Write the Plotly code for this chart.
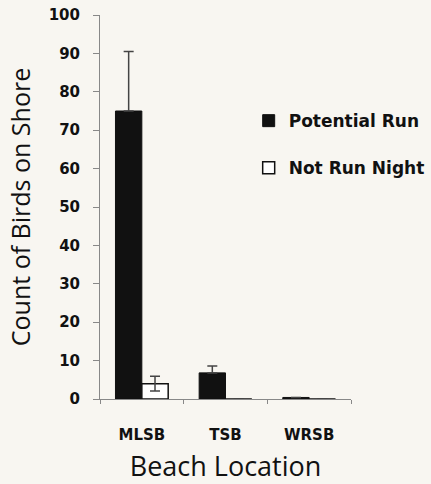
import plotly.graph_objects as go

categories = ["MLSB", "TSB", "WRSB"]
potential_run = [75, 6.8, 0.4]
potential_err = [15.5, 1.8, 0]
not_run_night = [4.0, 0, 0]
not_run_err = [1.9, 0, 0]

fig = go.Figure()
fig.add_trace(go.Bar(
    x=categories, y=potential_run, name="Potential Run",
    marker=dict(color="#111111", line=dict(color="#111111", width=1)),
    error_y=dict(type="data", symmetric=False, array=potential_err, arrayminus=[0, 0, 0],
                 color="#444444", thickness=1.5, width=5),
    legendgroup="a",
))
fig.add_trace(go.Bar(
    x=categories, y=not_run_night, name="Not Run Night",
    marker=dict(color="#ffffff", line=dict(color="#111111", width=1.5)),
    error_y=dict(type="data", array=not_run_err, color="#444444", thickness=1.5, width=5),
    legendgroup="b",
))

font = "Open Sans"
tickfont = "DejaVu Sans"
fig.update_layout(
    width=431, height=484,
    margin=dict(l=100, r=80, t=15, b=85, autoexpand=False),
    paper_bgcolor="#f8f6f1", plot_bgcolor="#f8f6f1",
    barmode="group", bargap=0.37, bargroupgap=0,
    showlegend=True,
    legend=dict(xref="container", yref="container", x=0.577, y=0.787,
                xanchor="left", yanchor="top",
                font=dict(family=tickfont, size=17, color="#111111", weight="bold"),
                bgcolor="rgba(0,0,0,0)", traceorder="grouped", tracegroupgap=22,
                itemwidth=30),
    font=dict(family=font, color="#111111"),
)
fig.update_yaxes(
    range=[0, 100], dtick=10, showgrid=False, zeroline=False, automargin=False,
    showline=True, linecolor="#888888", linewidth=1,
    ticks="outside", ticklen=6, tickcolor="#888888", ticklabelstandoff=10,
    tickfont=dict(family=tickfont, size=15, color="#111111", weight="bold"),
    title=dict(text="Count of Birds on Shore", font=dict(family=font, size=25, color="#111111"), standoff=10),
)
fig.update_xaxes(
    showgrid=False, showline=True, linecolor="#888888", linewidth=1, automargin=True,
    ticks="outside", tickson="boundaries", ticklen=4, tickcolor="#888888", ticklabelstandoff=22,
    tickfont=dict(family=tickfont, size=15, color="#111111", weight="bold"),
    title=dict(text="Beach Location", font=dict(family=font, size=27, color="#111111"), standoff=17),
)
fig.write_html("out.html", config={"displayModeBar": False},
               post_script="document.body.style.margin='0';document.body.style.background='#f8f6f1';")
